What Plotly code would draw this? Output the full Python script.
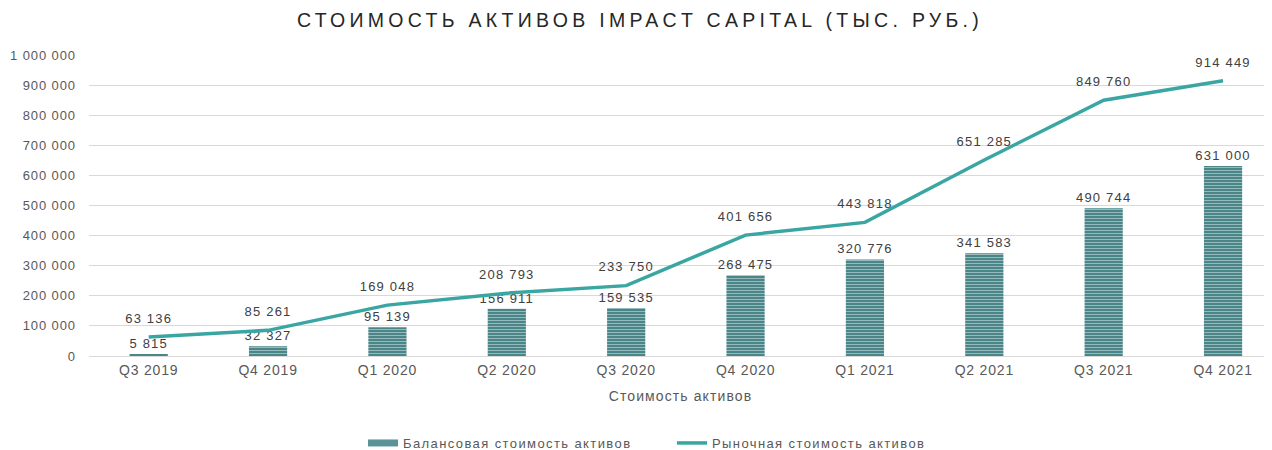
import plotly.graph_objects as go

quarters = ["Q3 2019", "Q4 2019", "Q1 2020", "Q2 2020", "Q3 2020",
            "Q4 2020", "Q1 2021", "Q2 2021", "Q3 2021", "Q4 2021"]
book_value = [5815, 32327, 95139, 156911, 159535, 268475, 320776, 341583, 490744, 631000]
market_value = [63136, 85261, 169048, 208793, 233750, 401656, 443818, 651285, 849760, 914449]
y_ticks = [0, 100000, 200000, 300000, 400000, 500000, 600000, 700000, 800000, 900000, 1000000]

font_family = "Liberation Sans, Arial, sans-serif"
txt_color = "#404040"
tick_color = "#595959"
bar_color = "#4f8b8e"
line_color = "#3aa6a3"


def sp(text, px):
    return f'<span style="letter-spacing:{px}px">{text}</span>'


def fmt(v):
    return f"{v:,}".replace(",", " ")


fig = go.Figure()
fig.add_trace(go.Bar(
    x=quarters, y=book_value, name="Балансовая стоимость активов",
    width=0.32, showlegend=False, legendgroup="book",
    marker=dict(color=bar_color,
                pattern=dict(shape="-", fgcolor="#e3eeee", bgcolor="#4a8588", size=3, solidity=0.35),
                line=dict(width=0)),
    text=[sp(fmt(v), 1.2) for v in book_value], texttemplate="%{text}", textposition="outside",
    constraintext="none",
    textfont=dict(size=13, color=txt_color, family=font_family),
    cliponaxis=False,
))
# legend entry for the bars (wide swatch as in the original)
fig.add_trace(go.Scatter(
    x=[None], y=[None], mode="lines", legendgroup="book",
    name=sp("Балансовая стоимость активов", 1.4),
    line=dict(color="#5b9497", width=7),
))
fig.add_trace(go.Scatter(
    x=quarters, y=market_value, name=sp("Рыночная стоимость активов", 1.4),
    mode="lines+markers+text",
    line=dict(color=line_color, width=3.5),
    marker=dict(size=16, color="rgba(0,0,0,0)", line=dict(width=0)),
    text=[sp(fmt(v), 1.2) for v in market_value], texttemplate="%{text}", textposition="top center",
    textfont=dict(size=13, color=txt_color, family=font_family),
    cliponaxis=False,
))

fig.update_layout(
    width=1264, height=442,
    margin=dict(l=81, r=0, t=47, b=94),
    paper_bgcolor="white", plot_bgcolor="white",
    font=dict(family=font_family, color=tick_color, size=13),
    title=dict(text=sp("СТОИМОСТЬ АКТИВОВ IMPACT CAPITAL (ТЫС. РУБ.)", 4.3),
               x=0.5, xref="container", xanchor="center", y=1 - 12 / 442, yanchor="middle",
               font=dict(size=19.5, color="#262626", family=font_family)),
    showlegend=True,
    legend=dict(orientation="h", x=355 / 1264, xref="container", xanchor="left",
                y=7 / 442, yref="container", yanchor="middle",
                font=dict(size=13, color=tick_color), itemwidth=30,
                entrywidth=264, entrywidthmode="pixels",
                traceorder="normal"),
)
fig.update_xaxes(
    range=[-0.5, 9.41], showgrid=False, showline=False, ticks="",
    tickvals=quarters, ticktext=[sp(q, 0.8) for q in quarters], ticklabelstandoff=4,
    title=dict(text=sp("Стоимость активов", 1.1), font=dict(size=14, color=tick_color), standoff=14),
    tickfont=dict(size=14, color=tick_color),
)
fig.update_yaxes(
    range=[0, 1000000], tickvals=y_ticks, ticktext=[sp(fmt(v), 0.9) for v in y_ticks],
    showgrid=True, gridcolor="#d9d9d9", gridwidth=1, zeroline=True, zerolinecolor="#d9d9d9",
    zerolinewidth=1, ticks="", ticklabelstandoff=12,
    tickfont=dict(size=13, color=tick_color),
)

fig.write_html("out.html")
